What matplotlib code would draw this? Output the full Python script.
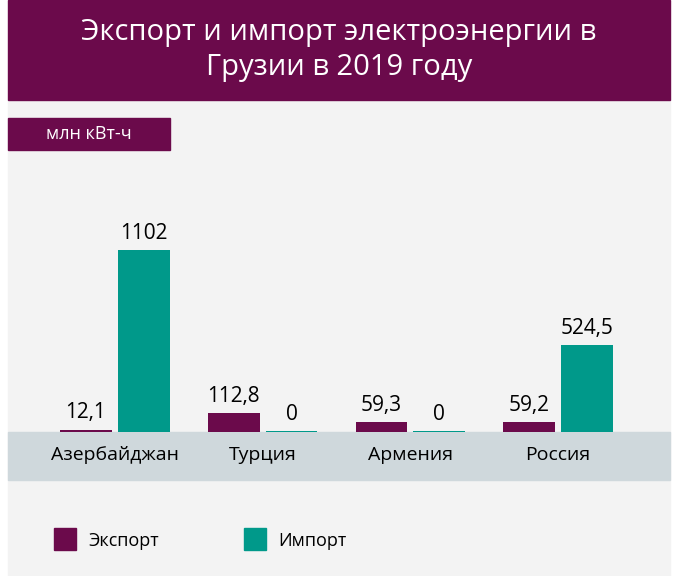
import matplotlib
matplotlib.use("Agg")
import matplotlib.pyplot as plt
from matplotlib.patches import Rectangle

categories = ["Азербайджан", "Турция", "Армения", "Россия"]
export_vals = [12.1, 112.8, 59.3, 59.2]
import_vals = [1102, 0, 0, 524.5]
export_labels = ["12,1", "112,8", "59,3", "59,2"]
import_labels = ["1102", "0", "0", "524,5"]

PURPLE = "#6b0a4b"
TEAL = "#00998a"
W, H = 682, 576
fig = plt.figure(figsize=(W/100, H/100), dpi=100)
fig.patch.set_facecolor("white")
font = "Open Sans"

def px(x, y, w, h):
    return [x/W, 1-(y+h)/H, w/W, h/H]

bg = fig.add_axes([0, 0, 1, 1]); bg.set_xlim(0, W); bg.set_ylim(H, 0); bg.axis("off")
bg.add_patch(Rectangle((8, 100), 662, 476, color="#f3f3f3"))
bg.add_patch(Rectangle((8, 0), 662, 100, color=PURPLE))
bg.text(339, 50, "Экспорт и импорт электроэнергии в\nГрузии в 2019 году", color="white",
        ha="center", va="center", fontsize=21, family=font, linespacing=1.3)
bg.add_patch(Rectangle((8, 118), 162, 32, color=PURPLE))
bg.text(89, 134, "млн кВт-ч", color="white", ha="center", va="center", fontsize=13, family=font)
bg.add_patch(Rectangle((8, 432), 662, 48, color="#cfd8dc"))
bg.add_patch(Rectangle((54, 528), 22, 22, color=PURPLE))
bg.text(88, 541, "Экспорт", ha="left", va="center", fontsize=13, family=font)
bg.add_patch(Rectangle((244, 528), 22, 22, color=TEAL))
bg.text(278, 541, "Импорт", ha="left", va="center", fontsize=13, family=font)

ax = fig.add_axes(px(8, 160, 662, 272))
ax.set_xlim(-0.723, 3.757); ax.set_ylim(0, 1648); ax.axis("off")
xs = list(range(len(categories)))
bw = 0.35
for i in xs:
    ax.bar(i-0.196, export_vals[i], bw, color=PURPLE)
    ax.bar(i+0.196, max(import_vals[i], 8), bw, color=TEAL)
    ax.text(i-0.196, export_vals[i]+40, export_labels[i], ha="center", va="bottom", fontsize=15, family=font)
    ax.text(i+0.196, import_vals[i]+40, import_labels[i], ha="center", va="bottom", fontsize=15, family=font)
    ax.text(i, -140, categories[i], ha="center", va="center", fontsize=14, family=font, clip_on=False)

fig.savefig("out.png", dpi=100)
